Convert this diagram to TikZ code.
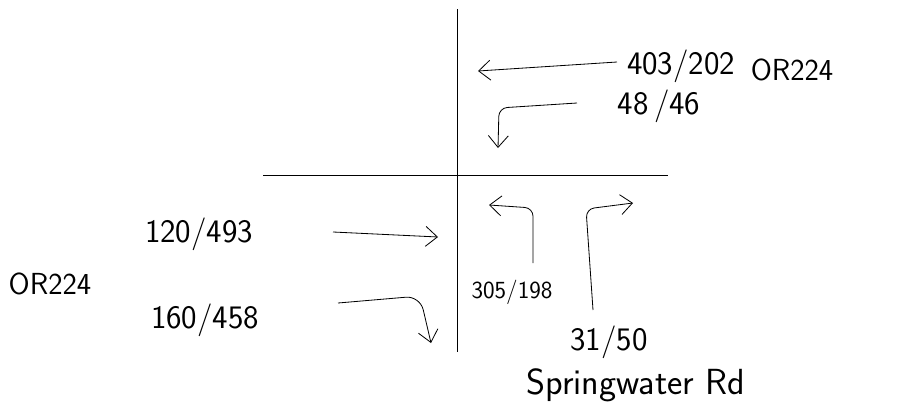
\documentclass[tikz,border=0pt]{standalone}
\usetikzlibrary{arrows.meta}
\tikzset{
  road/.style={draw=black,line width=0.7pt},
  move/.style={draw=black,line width=0.7pt,rounded corners=7pt,-{Straight Barb[length=10pt,width=17pt,line width=0.7pt]}},
  vol/.style={font=\sffamily\fontsize{28}{32}\selectfont,inner sep=1pt},
  volsm/.style={font=\sffamily\fontsize{21}{24}\selectfont,inner sep=1pt},
  rdname/.style={font=\sffamily\fontsize{26}{30}\selectfont,inner sep=1pt}}

\begin{document}
\begin{tikzpicture}[x=0.03cm,y=-0.03cm]
\path[use as bounding box,fill=white] (0,0) rectangle (908,419);

\coordinate (ntop) at (457,9);
\coordinate (nbot) at (457,352);
\coordinate (wend) at (263,175);
\coordinate (eend) at (668,175);
\draw[road] (ntop) -- (nbot);
\draw[road] (wend) -- (eend);

\node[vol] (wbthru) at (681,66) {403/202};
\node[vol] (wbleft) at (659,106) {48\,/46};
\node[rdname] (orEast) at (792,70) {OR224};
\node[vol] (ebthru) at (199,234) {120/493};
\node[vol] (ebright) at (205,320) {160/458};
\node[rdname] (orWest) at (50,284) {OR224};
\node[volsm] (nbleft) at (512,292) {305/198};
\node[vol] (nbright) at (609,342) {31/50};
\node[rdname,font=\sffamily\fontsize{31}{34}\selectfont] (springwater) at (636,385) {Springwater Rd};

\coordinate (wbthruA) at (617,62);
\coordinate (wbthruB) at (478,71);
\coordinate (wbleftA) at (577,103);
\coordinate (wbleftK) at (499,108);
\coordinate (wbleftB) at (498,148);
\coordinate (ebthruA) at (333,232);
\coordinate (ebthruB) at (438,237);
\coordinate (ebrightA) at (338,303);
\coordinate (ebrightK) at (420,296);
\coordinate (ebrightB) at (431,343);
\coordinate (nbleftA) at (533,263);
\coordinate (nbleftK) at (533,208);
\coordinate (nbleftB) at (489,205);
\coordinate (nbrightA) at (593,310);
\coordinate (nbrightK) at (586,209);
\coordinate (nbrightB) at (633,203);

\draw[move] (wbthruA) -- (wbthruB);
\draw[move] (wbleftA) -- (wbleftK) -- (wbleftB);
\draw[move] (ebthruA) -- (ebthruB);
\draw[move,rounded corners=12pt] (ebrightA) -- (ebrightK) -- (ebrightB);
\draw[move] (nbleftA) -- (nbleftK) -- (nbleftB);
\draw[move] (nbrightA) -- (nbrightK) -- (nbrightB);
\end{tikzpicture}
\end{document}
